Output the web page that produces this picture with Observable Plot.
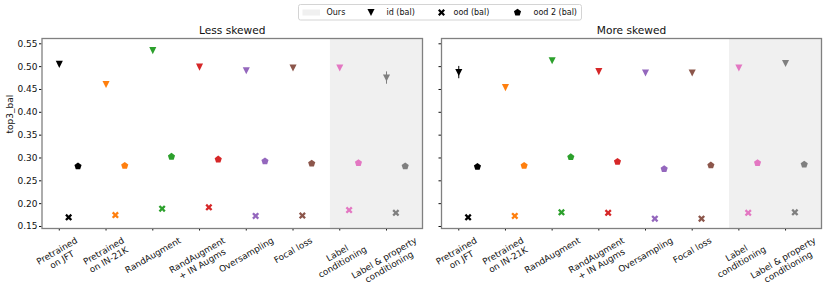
<!DOCTYPE html>
<html><head><meta charset="utf-8">
<script src="https://cdn.jsdelivr.net/npm/d3@7"></script>
<script src="https://cdn.jsdelivr.net/npm/@observablehq/plot@0.6"></script>
<style>
body{margin:0;background:#fff;font-family:"DejaVu Sans",sans-serif;}
#root{position:relative;width:830px;height:295px;overflow:hidden;background:#fff;}
#root svg{position:absolute;top:0;overflow:visible;background:transparent;}
</style></head><body><div id="root"></div>
<script>
// ---- data ----
const methods = ["Pretrained\non JFT", "Pretrained\non IN-21K", "RandAugment", "RandAugment\n+ IN Augms", "Oversampling", "Focal loss", "Label\nconditioning", "Label & property\nconditioning"];
const colors = ["#000000", "#ff7f0e", "#2ca02c", "#d62728", "#9467bd", "#8c564b", "#e377c2", "#7f7f7f"];
const panels = ["Less skewed", "More skewed"];
const oursFrom = "Label\nconditioning";
const seriesNames = ["id (bal)", "ood (bal)", "ood 2 (bal)"];
const yTicks = [0.15, 0.20, 0.25, 0.30, 0.35, 0.40, 0.45, 0.50, 0.55];

const idLess   = [0.505, 0.461, 0.535, 0.499, 0.491, 0.497, 0.497, 0.475];
const oodLess  = [0.170, 0.175, 0.189, 0.192, 0.173, 0.174, 0.186, 0.180];
const ood2Less = [0.282, 0.283, 0.303, 0.297, 0.293, 0.288, 0.289, 0.282];
const idErrLess = [0, 0, 0, 0, 0, 0, 0, 0.0135];

const idMore   = [0.487, 0.454, 0.513, 0.489, 0.486, 0.486, 0.497, 0.507];
const oodMore  = [0.170, 0.173, 0.181, 0.180, 0.167, 0.167, 0.180, 0.181];
const ood2More = [0.281, 0.283, 0.302, 0.292, 0.276, 0.284, 0.289, 0.286];
const idErrMore = [0.0135, 0, 0, 0, 0, 0, 0, 0];

// ---- build table ----
const seriesByPanel = [
  [idLess, oodLess, ood2Less, idErrLess],
  [idMore, oodMore, ood2More, idErrMore]
];
const offsets = [0, 0.2, 0.4];
const table = [];
panels.forEach((p, pi) => {
  const s = seriesByPanel[pi];
  methods.forEach((m, i) => {
    seriesNames.forEach((k, si) => {
      table.push({panel: p, method: m, kind: k, x: i + offsets[si], value: s[si][i], err: si === 0 ? s[3][i] : 0});
    });
  });
});
const xDomain = [-0.37, methods.length - 1 + 0.4 + 0.37];
const yDomain = [0.1456, 0.5616];
const oursX1 = methods.indexOf(oursFrom) - 0.2;

// ---- symbols (matplotlib-like) ----
function sym(fn) { return {draw(ctx, size) { fn(ctx, Math.sqrt(size / Math.PI)); }}; }
const triDown = sym((c, r) => { const a = r * 1.18; c.moveTo(-a, -a); c.lineTo(a, -a); c.lineTo(0, a); c.closePath(); });
const xFilled = sym((c, r) => {
  const L = r * 1.27, t = L * 0.3, k = Math.SQRT1_2;
  const pts = [[-t,-L],[t,-L],[t,-t],[L,-t],[L,t],[t,t],[t,L],[-t,L],[-t,t],[-L,t],[-L,-t],[-t,-t]];
  pts.forEach(([x, y], i) => { const X = (x - y) * k, Y = (x + y) * k; i ? c.lineTo(X, Y) : c.moveTo(X, Y); });
  c.closePath();
});
const pent = sym((c, r) => {
  const R = r * 1.25;
  for (let k = 0; k < 5; k++) { const a = -Math.PI / 2 + k * 2 * Math.PI / 5; const X = R * Math.cos(a), Y = R * Math.sin(a); k ? c.lineTo(X, Y) : c.moveTo(X, Y); }
  c.closePath();
});
const symbols = {"id (bal)": triDown, "ood (bal)": xFilled, "ood 2 (bal)": pent};

// ---- label measurement ----
const labelFs = 8.8, labelLH = 1.15;
const cv = document.createElement("canvas").getContext("2d");
cv.font = `${labelFs}px "DejaVu Sans"`;
function labelDy(t) {
  const lines = t.split("\n");
  const w = d3.max(lines, l => cv.measureText(l).width);
  const h = lines.length * labelLH * labelFs;
  const V = w * 0.5 + h * 0.866;
  return 6.5 + V / 2;
}

const root = document.getElementById("root");

function makePanel(pi, left, width, mL, mR) {
  const rows = table.filter(d => d.panel === panels[pi]);
  const marks = [
    Plot.rect([oursX1], {x1: d => d, x2: () => xDomain[1], y1: () => yDomain[0], y2: () => yDomain[1], fill: "#f0f0f0"}),
    Plot.axisY({ticks: yTicks, tickSize: 2.5, tickPadding: 2, tickFormat: pi === 0 ? d3.format(".2f") : () => "", label: null, fontSize: 9}),
    Plot.axisX({ticks: d3.range(methods.length), tickSize: 2.5, tickFormat: () => "", label: null}),
    Plot.ruleX(rows.filter(d => d.err > 0), {x: "x", y1: d => d.value - d.err, y2: d => d.value + d.err, stroke: "method", strokeWidth: 1})
  ];
  for (const k of seriesNames) {
    marks.push(Plot.dot(rows.filter(d => d.kind === k), {x: "x", y: "value", fill: "method", symbol: symbols[k], r: 3}));
  }
  methods.forEach((m, i) => {
    marks.push(Plot.text([i], {x: d => d, text: d => methods[d], frameAnchor: "bottom", dy: labelDy(m), rotate: -30, textAnchor: "middle", lineAnchor: "middle", lineHeight: labelLH, fontSize: labelFs}));
  });
  marks.push(Plot.text([panels[pi]], {text: d => d, frameAnchor: "top", lineAnchor: "middle", dy: -7.5, fontSize: 10.6}));
  if (pi === 0) marks.push(Plot.text(["top3_bal"], {text: d => d, frameAnchor: "left", dx: -32, rotate: -90, fontSize: 9}));
  marks.push(Plot.frame({stroke: "#808080", strokeWidth: 1.3}));
  const svg = Plot.plot({
    width, height: 295, marginLeft: mL, marginRight: mR, marginTop: 38, marginBottom: 67,
    x: {domain: xDomain, axis: null},
    y: {domain: yDomain, axis: null},
    color: {domain: methods, range: colors},
    style: {fontFamily: "DejaVu Sans", fontSize: "9px", color: "#111", background: "transparent", overflow: "visible"},
    marks
  });
  svg.style.left = left + "px";
  svg.style.position = "absolute";
  root.appendChild(svg);
}
makePanel(0, 0, 424, 41.5, 2);
makePanel(1, 424, 406, 17, 9);

// ---- legend ----
const lg = d3.create("svg").attr("width", 284).attr("height", 17).style("left", "298px").style("top", "3.5px");
lg.append("rect").attr("x", 0.5).attr("y", 0.5).attr("width", 283).attr("height", 15.5).attr("rx", 2).attr("fill", "#fff").attr("stroke", "#d4d4d4");
lg.append("rect").attr("x", 4.5).attr("y", 5.5).attr("width", 17.5).attr("height", 6).attr("fill", "#f0f0f0");
lg.append("text").attr("x", 28.5).attr("y", 11.3).text("Ours");
const items = [["id (bal)", 73, 88.5], ["ood (bal)", 143.5, 155.5], ["ood 2 (bal)", 219.5, 235.5]];
for (const [k, cx, tx] of items) {
  lg.append("path").attr("transform", `translate(${cx},8.5)`).attr("d", d3.symbol(symbols[k], Math.PI * 9)());
  lg.append("text").attr("x", tx).attr("y", 11.3).text(k);
}
lg.selectAll("text").attr("font-family", "DejaVu Sans").attr("font-size", 8).attr("fill", "#111");
root.appendChild(lg.node());
</script></body></html>
